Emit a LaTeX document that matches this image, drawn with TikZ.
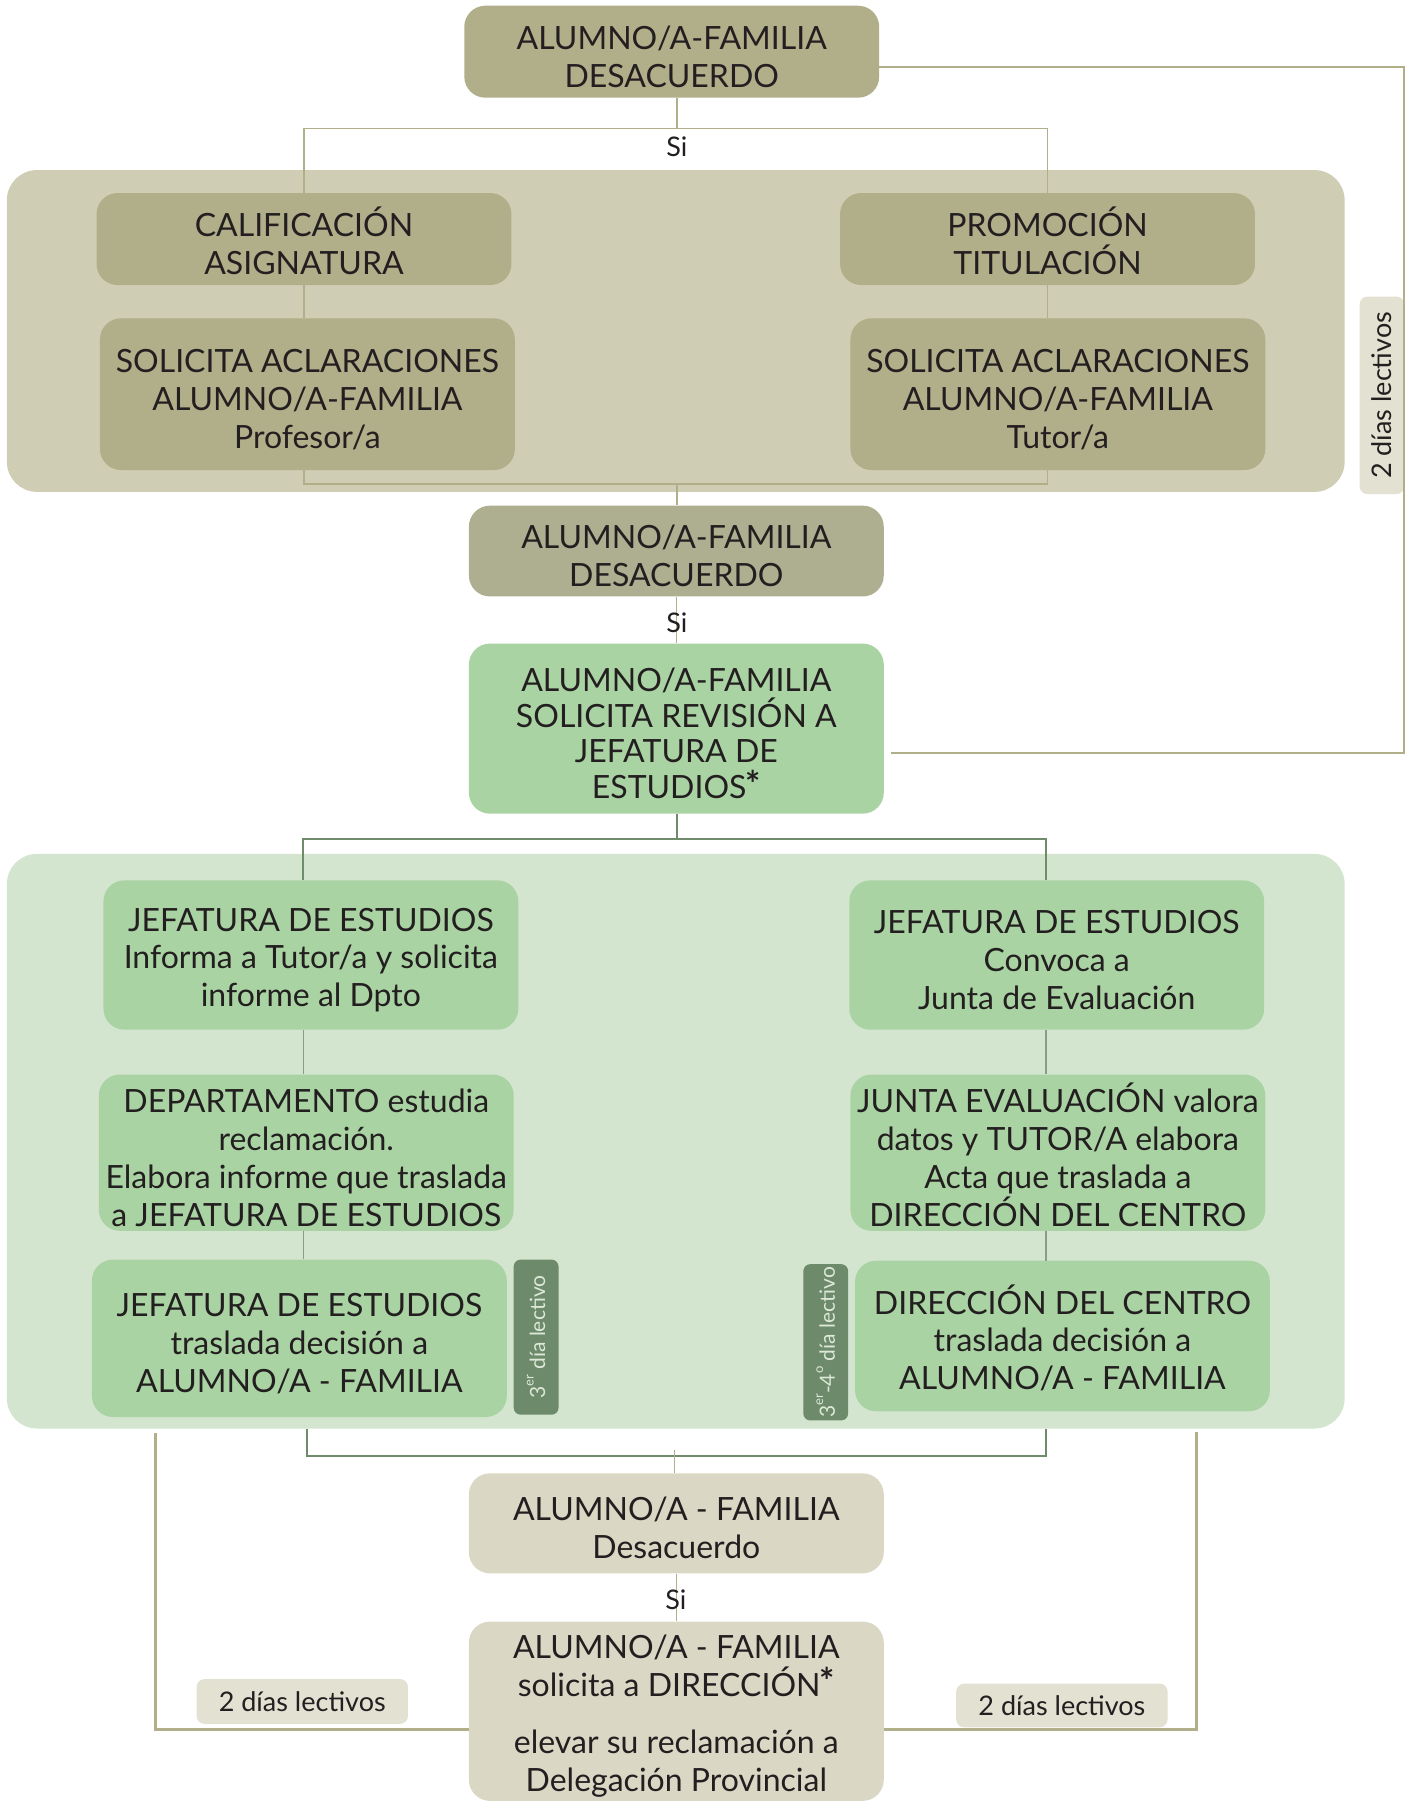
\documentclass[tikz,border=0pt]{standalone}
\usepackage{fontspec}
\setmainfont{Lato}
\pgfdeclarelayer{bg}
\pgfsetlayers{bg,main}
\definecolor{kbox}{HTML}{B1AE8A}
\definecolor{kbox2}{HTML}{AEAE90}
\definecolor{kpanel}{HTML}{CFCDB4}
\definecolor{gbox}{HTML}{AAD3A3}
\definecolor{gpanel}{HTML}{D3E5CF}
\definecolor{gtag}{HTML}{6D8A6A}
\definecolor{gtagtxt}{HTML}{DCE8D8}
\definecolor{lbox}{HTML}{DAD8C4}
\definecolor{ltag}{HTML}{E2E1D2}
\definecolor{kline}{HTML}{B1AE8A}
\definecolor{gline}{HTML}{6F8B6B}
\definecolor{gline2}{HTML}{8A9C87}
\definecolor{txt}{HTML}{231F20}
\tikzset{
  bx/.style 2 args={minimum width=#1*1.1488pt, minimum height=#2*1.1488pt,
    inner sep=0pt, align=center, rounded corners=21pt, text=txt,
    font=\fontsize{32}{37.9}\selectfont},
  panel/.style 2 args={minimum width=#1*1.1488pt, minimum height=#2*1.1488pt,
    inner sep=0pt, rounded corners=30pt},
  tagbox/.style 2 args={minimum width=#1*1.1488pt, minimum height=#2*1.1488pt,
    inner sep=0pt, rounded corners=8pt, font=\fontsize{27}{30}\selectfont, text=txt},
  dtag/.style 2 args={minimum width=#1*1.1488pt, minimum height=#2*1.1488pt,
    inner sep=0pt, rounded corners=7pt, fill=gtag, text=gtagtxt,
    font=\fontsize{21}{24}\selectfont},
  si/.style={inner sep=1pt, text=txt, font=\fontsize{27}{30}\selectfont},
  kl/.style={draw=kline, line width=1.5pt},
  gl/.style={draw=gline, line width=2pt},
  gl2/.style={draw=gline2, line width=1.5pt},
  kk/.style={draw=kline, line width=3pt},
  km/.style={draw=kline, line width=2pt},
}
\newcommand{\astk}{\kern-1pt\raisebox{0.05em}[0pt][0pt]{\fontsize{36}{36}\selectfont\bfseries *}}
\newcommand{\fs}{\rule{0pt}{33.4pt}}
\newcommand{\sups}[1]{\raisebox{0.55em}{\fontsize{13}{13}\selectfont #1}}
\begin{document}
\begin{tikzpicture}[x=1.1488pt,y=-1.1488pt]
\useasboundingbox (0,0) rectangle (1230,1568);
\clip (0,0) rectangle (1230,1568);

\begin{pgfonlayer}{bg}
\node[panel={1164}{280}, fill=kpanel] (kp) at (588,288) {};
\node[panel={1164}{500}, fill=gpanel] (gp) at (588,993) {};
\end{pgfonlayer}

% boxes
\node[bx={361}{80}, fill=kbox] (top) at (584.5,45) {\fs ALUMNO/A-FAMILIA\\DESACUERDO};
\node[bx={361}{80}, fill=kbox] (cal) at (264.5,208) {\fs CALIFICACIÓN\\ASIGNATURA};
\node[bx={361}{80}, fill=kbox] (prom) at (911.5,208) {\fs PROMOCIÓN\\TITULACIÓN};
\node[bx={361}{132}, fill=kbox] (sol1) at (267.5,343) {\fs SOLICITA ACLARACIONES\\ALUMNO/A-FAMILIA\\Profesor/a};
\node[bx={361}{132}, fill=kbox] (sol2) at (920.5,343) {\fs SOLICITA ACLARACIONES\\ALUMNO/A-FAMILIA\\Tutor/a};
\node[tagbox={172}{39}, fill=ltag, rotate=90] (tagr) at (1202.5,344) {2 días lectivos};
\node[bx={361}{79}, fill=kbox2] (des2) at (588.5,479.5) {\fs ALUMNO/A-FAMILIA\\DESACUERDO};
\node[bx={361}{148}, fill=gbox, font=\fontsize{32}{35.6}\selectfont] (green) at (588.5,634) {\fs ALUMNO/A-FAMILIA\\SOLICITA REVISIÓN A\\JEFATURA DE\\ESTUDIOS\astk};

\node[bx={361}{130}, fill=gbox] (jef1) at (270.5,831) {\fs JEFATURA DE ESTUDIOS\\Informa a Tutor/a y solicita\\informe al Dpto};
\node[bx={361}{130}, fill=gbox] (jef2) at (919.5,831) {\fs JEFATURA DE ESTUDIOS\\Convoca a\\Junta de Evaluación};
\node[bx={361}{136}, fill=gbox] (dep) at (266.5,1003) {\fs DEPARTAMENTO estudia\\reclamación.\\Elabora informe que traslada\\a JEFATURA DE ESTUDIOS};
\node[bx={361}{136}, fill=gbox] (junta) at (920.5,1003) {\fs JUNTA EVALUACIÓN valora\\datos y TUTOR/A elabora\\Acta que traslada a\\DIRECCIÓN DEL CENTRO};
\node[bx={361}{137}, fill=gbox] (jtras) at (260.5,1164.5) {\fs JEFATURA DE ESTUDIOS\\traslada decisión a\\ALUMNO/A - FAMILIA};
\node[bx={361}{131}, fill=gbox] (dtras) at (924.5,1162.5) {\fs DIRECCIÓN DEL CENTRO\\traslada decisión a\\ALUMNO/A - FAMILIA};
\node[dtag={135}{39}, rotate=90] (tag3) at (466.5,1163.5) {3\sups{er} día lectivo};
\node[dtag={136}{39}, rotate=90] (tag34) at (718.5,1168) {3\sups{er}-4\sups{o} día lectivo};

\node[bx={361}{87}, fill=lbox] (des3) at (588.5,1325.5) {\fs ALUMNO/A - FAMILIA\\Desacuerdo};
\node[bx={361}{156}, fill=lbox] (final) at (588.5,1489) {\fs ALUMNO/A - FAMILIA\\solicita a DIRECCIÓN\astk\\[20pt]elevar su reclamación a\\Delegación Provincial};
\node[tagbox={184}{39}, fill=ltag] (tagl) at (263,1480.5) {2 días lectivos};
\node[tagbox={184}{38}, fill=ltag] (tagr2) at (924,1484) {2 días lectivos};

% connectors, top part
\coordinate (j1) at (589,112);
\draw[kl] (top.south -| j1) -- (j1);
\draw[kl] (cal.north) |- (j1) -| (prom.north);
\node[si] (si1) at (589,128) {Si};
\draw[kl] (cal.south) -- (cal.south |- sol1.north);
\draw[kl] (prom.south) -- (prom.south |- sol2.north);
\coordinate (j2) at (589,421);
\draw[kl] (sol1.south -| cal.south) |- (j2) -| (sol2.south -| prom.south);
\draw[kl] (j2) -- (des2.north -| j2);
\draw[kl] (des2.south) -- (green.north);
\node[si] (si2) at (589,542) {Si};

% right loop
\draw[km] (top.east |- 0,58) -- (1222,58) |- ([xshift=7pt]green.east |- 0,655);

% green part
\coordinate (j3) at (589,730);
\draw[gl] (green.south -| j3) -- (j3);
\draw[gl] (jef1.north -| 264,0) |- (j3) -| (jef2.north -| 910,0);
\draw[gl2] (jef1.south -| 264,0) -- (dep.north -| 264,0);
\draw[gl2] (dep.south -| 264,0) -- (jtras.north -| 264,0);
\draw[gl2] (jef2.south -| 910,0) -- (junta.north -| 910,0);
\draw[gl2] (junta.south -| 910,0) -- (dtras.north -| 910,0);
\coordinate (j4) at (587,1267);
\draw[gl] (gp.south -| 267,0) |- (j4) -| (gp.south -| 910,0);
\draw[kl] (587,1262) -- (des3.north -| j4);
\draw[kl] (des3.south) -- (final.north);
\node[si] (si3) at (588,1392) {Si};

% bottom brackets
\draw[kk] (135,1247) |- (final.west |- 0,1505);
\draw[kk] (1041,1246) |- (final.east |- 0,1505);
\end{tikzpicture}
\end{document}
